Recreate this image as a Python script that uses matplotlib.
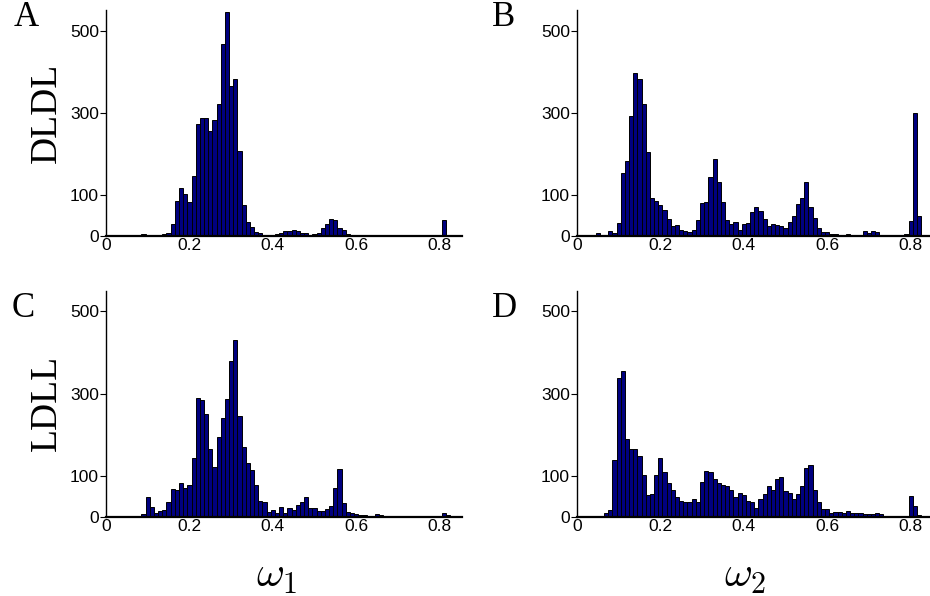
import numpy as np
import matplotlib
matplotlib.use("Agg")
import matplotlib.pyplot as plt

# bin centres (width 0.01) from 0.05 to 0.84
centers = np.round(np.arange(0.05, 0.845, 0.01), 2)

counts_A = [1, 1, 1, 1, 3, 1, 1, 1, 2, 3,
            6, 28, 85, 117, 101, 82, 145, 273, 288, 286,
            254, 281, 322, 467, 545, 364, 381, 206, 75, 33,
            21, 10, 6, 2, 0, 2, 3, 7, 11, 12,
            15, 11, 7, 6, 2, 4, 7, 19, 28, 41,
            38, 19, 14, 3, 2, 1, 1, 1, 1, 0,
            1, 2, 1, 1, 1, 1, 1, 1, 1, 1,
            1, 1, 1, 1, 1, 2, 38, 1, 0, 0]

counts_B = [6, 2, 2, 11, 6, 31, 152, 181, 291, 396,
            381, 322, 203, 93, 84, 74, 62, 40, 24, 26,
            14, 11, 9, 13, 38, 79, 83, 143, 188, 132,
            83, 38, 28, 33, 14, 28, 31, 58, 70, 60,
            40, 24, 29, 25, 24, 18, 33, 49, 77, 92,
            131, 71, 42, 20, 9, 9, 4, 4, 2, 1,
            3, 2, 1, 2, 11, 6, 11, 9, 2, 1,
            1, 1, 1, 1, 3, 37, 300, 48, 0, 0]

counts_C = [0, 0, 0, 0, 6, 48, 23, 10, 14, 16,
            35, 67, 64, 81, 71, 78, 144, 290, 285, 250,
            165, 121, 195, 240, 287, 379, 430, 246, 169, 131,
            113, 77, 38, 35, 11, 16, 10, 24, 8, 20,
            17, 29, 36, 48, 20, 21, 15, 15, 19, 27,
            69, 115, 34, 11, 8, 7, 3, 4, 1, 2,
            6, 3, 1, 1, 0, 1, 2, 2, 1, 0,
            0, 0, 0, 0, 0, 1, 10, 4, 0, 0]

counts_D = [1, 0, 9, 17, 139, 339, 355, 189, 166, 166,
            148, 101, 53, 56, 102, 143, 110, 83, 66, 47,
            38, 35, 35, 43, 35, 85, 112, 110, 93, 83,
            78, 74, 64, 48, 58, 54, 39, 35, 22, 44,
            56, 75, 65, 92, 97, 62, 57, 43, 55, 75,
            118, 127, 65, 35, 18, 18, 9, 11, 12, 8,
            13, 8, 8, 8, 6, 7, 6, 10, 7, 1,
            0, 0, 0, 0, 2, 51, 27, 4, 0, 0]

xticks = [0, 0.2, 0.4, 0.6, 0.8]
xticklabels = ["0", "0.2", "0.4", "0.6", "0.8"]
yticks = [0, 100, 300, 500]

panel_letters = ["A", "B", "C", "D"]
row_labels = ["DLDL", "LDLL"]
col_labels = [r"$\omega_1$", r"$\omega_2$"]

plt.rcParams["mathtext.fontset"] = "cm"

fig = plt.figure(figsize=(9.3, 5.96), dpi=100)

# axes boxes in figure fractions
positions = [
    [0.1140, 0.6045, 0.3825, 0.3787],
    [0.6204, 0.6045, 0.3825, 0.3787],
    [0.1140, 0.1331, 0.3825, 0.3787],
    [0.6204, 0.1331, 0.3825, 0.3787],
]
all_counts = [counts_A, counts_B, counts_C, counts_D]

for pos, cnt in zip(positions, all_counts):
    ax = fig.add_axes(pos)
    ax.bar(centers, cnt, width=0.01, color="#00007f", edgecolor="black",
           linewidth=0.7)
    ax.set_xlim(0, 0.853)
    ax.set_ylim(0, 550)
    ax.set_xticks(xticks)
    ax.set_xticklabels(xticklabels)
    ax.set_yticks(yticks)
    for s in ["top", "right"]:
        ax.spines[s].set_visible(False)
    ax.spines["bottom"].set_linewidth(1.6)
    ax.spines["left"].set_linewidth(1.0)
    ax.tick_params(axis="x", length=0, pad=2, labelsize=12.5)
    ax.tick_params(axis="y", length=4, width=0.8, direction="out", pad=1,
                   labelsize=12.5)
    for lab in ax.get_xticklabels() + ax.get_yticklabels():
        lab.set_family("Liberation Sans")

# panel letters
letter_xy = [(0.028, 0.970), (0.5414, 0.970), (0.025, 0.483), (0.543, 0.483)]
for (x, y), t in zip(letter_xy, panel_letters):
    fig.text(x, y, t, family="Liberation Serif", fontsize=25,
             ha="center", va="center")

# row labels
fig.text(0.0505, 0.810, row_labels[0], family="Liberation Serif", fontsize=27,
         rotation=90, ha="center", va="center")
fig.text(0.0505, 0.324, row_labels[1], family="Liberation Serif", fontsize=27,
         rotation=90, ha="center", va="center")

# column labels
fig.text(0.297, 0.036, col_labels[0], fontsize=31, ha="center", va="center")
fig.text(0.801, 0.036, col_labels[1], fontsize=31, ha="center", va="center")

fig.savefig("out.png", dpi=100)
